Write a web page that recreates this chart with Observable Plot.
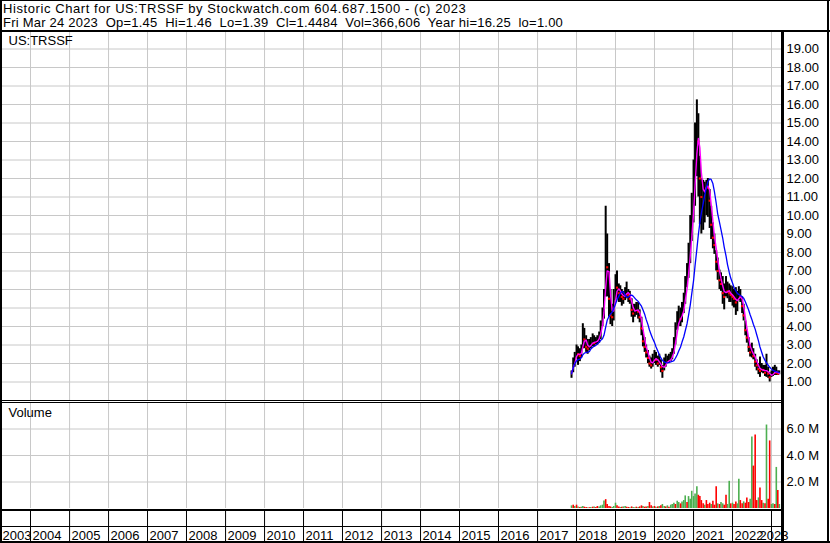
<!DOCTYPE html>
<html><head><meta charset="utf-8">
<script src="https://cdn.jsdelivr.net/npm/d3@7"></script>
<script src="https://cdn.jsdelivr.net/npm/@observablehq/plot@0.6"></script>
<style>
body{margin:0;background:#fff;}
#chart{position:relative;width:830px;height:543px;background:#fff;font-family:"Liberation Sans",Arial,sans-serif;overflow:hidden;color:#000;}
.txt{position:absolute;font-size:13px;line-height:14px;white-space:pre;color:#000;}
.bk{position:absolute;background:#000;}
.pl{position:absolute;left:0;}
svg{display:block;}
</style></head><body><div id="chart"></div>
<script>
// ---- data (semi-monthly readings) ----
const dates = ["2017-11-15","2017-12-01","2017-12-15",
"2018-01-01","2018-01-15","2018-02-01","2018-02-15","2018-03-01","2018-03-15","2018-04-01","2018-04-15","2018-05-01","2018-05-15","2018-06-01","2018-06-15","2018-07-01","2018-07-15","2018-08-01","2018-08-15","2018-09-01","2018-09-15","2018-10-01","2018-10-15","2018-11-01","2018-11-15","2018-12-01","2018-12-15",
"2019-01-01","2019-01-15","2019-02-01","2019-02-15","2019-03-01","2019-03-15","2019-04-01","2019-04-15","2019-05-01","2019-05-15","2019-06-01","2019-06-15","2019-07-01","2019-07-15","2019-08-01","2019-08-15","2019-09-01","2019-09-15","2019-10-01","2019-10-15","2019-11-01","2019-11-15","2019-12-01","2019-12-15",
"2020-01-01","2020-01-15","2020-02-01","2020-02-15","2020-03-01","2020-03-15","2020-04-01","2020-04-15","2020-05-01","2020-05-15","2020-06-01","2020-06-15","2020-07-01","2020-07-15","2020-08-01","2020-08-15","2020-09-01","2020-09-15","2020-10-01","2020-10-15","2020-11-01","2020-11-15","2020-12-01","2020-12-15",
"2021-01-01","2021-01-15","2021-02-01","2021-02-15","2021-03-01","2021-03-15","2021-04-01","2021-04-15","2021-05-01","2021-05-15","2021-06-01","2021-06-15","2021-07-01","2021-07-15","2021-08-01","2021-08-15","2021-09-01","2021-09-15","2021-10-01","2021-10-15","2021-11-01","2021-11-15","2021-12-01","2021-12-15",
"2022-01-01","2022-01-15","2022-02-01","2022-02-15","2022-03-01","2022-03-15","2022-04-01","2022-04-15","2022-05-01","2022-05-15","2022-06-01","2022-06-15","2022-07-01","2022-07-15","2022-08-01","2022-08-15","2022-09-01","2022-09-15","2022-10-01","2022-10-15","2022-11-01","2022-11-15","2022-12-01","2022-12-15",
"2023-01-01","2023-01-15","2023-02-01","2023-02-15","2023-03-01","2023-03-15"];

const highs = [1.6,2.3,2.6,
3.0,2.9,2.8,3.0,4.15,3.9,3.5,3.3,3.3,3.4,3.6,3.5,3.4,3.5,3.7,4.3,5.0,6.0,10.5,9.0,7.4,6.0,5.2,6.0,
6.8,7.0,6.3,6.2,6.0,5.9,6.1,6.4,6.0,5.9,5.5,5.2,5.2,5.3,5.3,4.9,4.5,3.8,3.4,3.0,2.7,2.4,2.3,2.5,
2.7,2.6,2.4,2.5,2.2,1.9,2.3,2.5,2.4,2.5,2.6,2.8,3.4,4.2,4.8,5.1,5.0,5.3,5.8,6.7,7.4,8.5,10.0,11.2,
13.0,15.0,16.25,15.5,13.2,12.0,11.9,11.8,11.9,12.0,11.4,10.5,9.6,9.0,8.1,7.7,7.05,6.9,6.7,6.3,6.7,6.4,6.3,6.2,
6.15,6.0,6.1,5.9,6.15,6.0,5.6,5.2,4.3,3.8,3.4,3.0,3.1,2.8,2.5,2.2,2.0,2.35,2.0,1.9,1.9,2.5,1.8,1.5,
1.6,1.8,1.9,1.8,1.6,1.6];

const lows = [1.2,1.5,1.8,
2.3,1.9,2.1,2.3,2.8,2.8,2.6,2.5,2.7,2.8,2.9,2.9,3.0,3.0,3.1,3.3,4.0,4.4,5.6,5.6,4.5,4.1,4.0,4.3,
5.4,5.5,5.3,5.3,5.1,5.2,5.4,5.5,5.3,5.2,4.5,4.2,4.5,4.6,4.4,4.2,3.5,2.9,2.6,2.3,2.0,1.8,1.7,1.8,
2.0,1.9,1.8,1.9,1.5,1.2,1.6,1.8,2.0,2.0,2.1,2.2,2.5,3.0,3.8,4.0,4.0,4.2,4.7,5.2,6.1,6.6,7.4,8.6,
9.6,10.5,12.1,11.0,9.5,9.0,9.2,9.6,10.0,9.9,9.3,8.7,8.2,7.9,7.0,6.5,6.0,5.9,5.2,4.9,5.6,5.5,5.3,5.3,
5.1,5.0,4.6,4.8,5.4,5.3,4.7,4.3,3.5,3.1,2.6,2.35,2.3,2.2,1.8,1.6,1.4,1.25,1.5,1.45,1.3,1.25,1.2,1.0,
1.25,1.3,1.35,1.35,1.35,1.39];

const closes = [1.45,2.1,2.4,
2.6,2.5,2.4,2.7,3.6,3.3,2.9,2.8,3.0,3.1,3.2,3.1,3.2,3.3,3.5,4.0,4.6,5.6,8.2,7.2,5.5,4.6,4.5,5.4,
6.2,6.1,5.8,5.9,5.6,5.5,5.8,6.0,5.7,5.5,4.9,4.7,4.9,5.0,4.8,4.5,3.9,3.2,2.9,2.6,2.3,2.0,1.9,2.2,
2.4,2.2,2.0,2.1,1.8,1.6,2.0,2.1,2.1,2.2,2.3,2.5,3.0,3.7,4.3,4.5,4.4,4.8,5.3,6.0,6.8,7.6,9.0,9.8,
11.5,13.5,15.0,14.0,12.0,11.0,11.3,11.5,11.8,11.5,10.8,9.5,8.8,8.4,7.5,7.0,6.5,6.3,5.8,5.6,6.1,5.9,5.8,5.7,
5.6,5.5,5.3,5.4,5.8,5.6,5.1,4.6,3.8,3.4,2.9,2.6,2.6,2.4,2.1,1.9,1.7,1.6,1.7,1.65,1.5,1.7,1.45,1.25,
1.4,1.55,1.6,1.5,1.45,1.45];

// volume in millions of shares, and whether the period closed up or down
const volumes = [0.20,0.25,0.15,
0.25,0.12,0.08,0.10,0.15,0.10,0.08,0.05,0.06,0.08,0.10,0.12,0.08,0.15,0.12,0.20,0.25,0.57,0.67,0.30,0.15,0.12,0.08,0.15,
0.40,0.20,0.12,0.08,0.10,0.12,0.15,0.10,0.08,0.06,0.12,0.08,0.06,0.10,0.08,0.12,0.20,0.15,0.10,0.12,0.15,0.45,0.20,0.12,
0.15,0.10,0.12,0.15,0.20,0.30,0.15,0.12,0.20,0.10,0.25,0.30,0.40,0.30,0.55,0.45,0.35,0.50,0.60,0.95,0.45,0.90,0.70,1.30,
0.90,1.10,1.65,1.00,0.90,0.60,0.35,0.25,0.60,0.30,0.40,0.30,0.55,0.25,1.65,0.35,0.30,0.45,0.35,0.25,1.00,0.30,2.05,0.35,
0.40,0.30,0.50,0.35,2.20,0.60,0.35,0.50,0.40,0.80,0.45,0.70,5.40,3.20,5.55,0.60,0.80,1.55,0.60,0.40,0.35,6.30,0.70,5.10,
0.30,0.35,0.30,3.10,1.35,0.30];

const volDir = ["up","down","up",
"down","up","down","up","up","down","down","up","down","up","down","up","down","down","up","up","up","up","down","down","down","down","up","up",
"up","down","down","up","down","up","up","down","down","up","down","up","up","down","up","down","down","up","down","down","up","down","down","up",
"down","up","down","up","down","up","up","down","up","down","up","up","up","down","up","up","down","up","up","up","down","up","up","up",
"up","up","up","down","down","down","down","up","down","down","down","up","down","down","down","up","down","up","up","down","down","up","up","down",
"up","down","down","up","up","down","down","up","down","down","down","up","up","down","down","down","up","down","down","up","down","up","down","down",
"up","up","down","up","down","up"];

const yearLabels = ["2003","2004","2005","2006","2007","2008","2009","2010","2011","2012","2013","2014","2015","2016","2017","2018","2019","2020","2021","2022","2023"];
const priceTicks = [1,2,3,4,5,6,7,8,9,10,11,12,13,14,15,16,17,18,19];
const volTicks = [2,4,6];

const headerLine1 = "Historic Chart for US:TRSSF by Stockwatch.com 604.687.1500 - (c) 2023";
const headerLine2 = "Fri Mar 24 2023  Op=1.45  Hi=1.46  Lo=1.39  Cl=1.4484  Vol=366,606  Year hi=16.25  lo=1.00";
const symbolLabel = "US:TRSSF";
const volumeLabel = "Volume";

// ---- build ----
const parse = d3.utcParse("%Y-%m-%d");
const priceData = dates.map((d, i) => ({date: parse(d), high: highs[i], low: lows[i], close: closes[i]}));
const volData = dates.map((d, i) => ({date: parse(d), vol: volumes[i], dir: volDir[i]}));
const xDomain = [new Date(Date.UTC(2003, 2, 26)), new Date(Date.UTC(2023, 3, 14))];
const yearStarts = yearLabels.slice(1).map(y => new Date(Date.UTC(+y, 0, 1)));
const GRID = "#c8c8c8";
const FONT = "'Liberation Sans', Arial, sans-serif";
const baseStyle = {fontFamily: FONT, fontSize: "13px", color: "#000", background: "transparent", overflow: "visible"};

const price = Plot.plot({
  width: 830, height: 370, marginTop: 0, marginBottom: 0, marginLeft: 0, marginRight: 48,
  style: baseStyle,
  x: {type: "utc", domain: xDomain, axis: null},
  y: {domain: [0, 20], axis: "right", ticks: priceTicks, tickSize: 0, tickPadding: 4, tickFormat: d => d.toFixed(2), label: null},
  marks: [
    Plot.ruleX(yearStarts, {stroke: GRID}),
    Plot.ruleY(priceTicks, {stroke: GRID}),
    Plot.ruleX(priceData, {x: "date", y1: "low", y2: "high", stroke: "#000", strokeWidth: 2}),
    Plot.dot(priceData, {filter: (d, i) => i > 0 && closes[i] < closes[i - 1], x: "date", y: "close", symbol: "square", r: 1.2, fill: "#ff0000", stroke: null}),
    Plot.lineY(priceData, Plot.windowY({k: 3, anchor: "end"}, {x: "date", y: "close", stroke: "#ff00ff", strokeWidth: 1.4})),
    Plot.lineY(priceData, Plot.windowY({k: 12, anchor: "end"}, {x: "date", y: "close", stroke: "#0000ff", strokeWidth: 1.3}))
  ]
});

const volume = Plot.plot({
  width: 830, height: 106, marginTop: 0, marginBottom: 0, marginLeft: 0, marginRight: 48,
  style: baseStyle,
  x: {type: "utc", domain: xDomain, axis: null},
  y: {domain: [0, 8], axis: "right", ticks: volTicks, tickSize: 0, tickPadding: 4, tickFormat: d => d.toFixed(1) + " M", label: null},
  marks: [
    Plot.ruleX(yearStarts, {stroke: GRID}),
    Plot.ruleY(volTicks, {stroke: GRID}),
    Plot.ruleX(volData, {filter: d => d.dir === "up", x: "date", y1: 0, y2: "vol", stroke: "#4caf50", strokeWidth: 1.6}),
    Plot.ruleX(volData, {filter: d => d.dir === "down", x: "date", y1: 0, y2: "vol", stroke: "#ff0000", strokeWidth: 1.6})
  ]
});

const axisLabels = yearLabels.slice(0, -1).map(y => ({label: y, date: d3.max([new Date(Date.UTC(+y, 0, 1)), xDomain[0]])}));
const lastLabel = [{label: yearLabels[yearLabels.length - 1], date: xDomain[1]}];
const axis = Plot.plot({
  width: 830, height: 30, marginTop: 0, marginBottom: 0, marginLeft: 0, marginRight: 48,
  style: baseStyle,
  x: {type: "utc", domain: xDomain, axis: null},
  marks: [
    Plot.ruleX(yearStarts, {stroke: "#000"}),
    Plot.text(axisLabels, {x: "date", text: "label", frameAnchor: "bottom", lineAnchor: "bottom", textAnchor: "start", dx: 2, dy: -1.5, fill: "#000"}),
    Plot.text(lastLabel, {x: "date", text: "label", frameAnchor: "bottom", lineAnchor: "bottom", textAnchor: "end", dx: 6, dy: -1.5, fill: "#000"})
  ]
});

const chart = document.getElementById("chart");
function place(el, top) { const w = document.createElement("div"); w.className = "pl"; w.style.top = top + "px"; w.appendChild(el); chart.appendChild(w); }
place(price, 30);
place(volume, 402);
place(axis, 511);

function txt(s, left, top, ls) { const d = document.createElement("div"); d.className = "txt"; d.textContent = s; d.style.left = left + "px"; d.style.top = top + "px"; if (ls) d.style.letterSpacing = ls + "px"; chart.appendChild(d); }
txt(headerLine1, 3, 2, 0.58);
txt(headerLine2, 3, 16, 0.22);
txt(symbolLabel, 8.5, 34);
txt(volumeLabel, 8.5, 406);

function line(l, t, w, h) { const d = document.createElement("div"); d.className = "bk"; Object.assign(d.style, {left: l + "px", top: t + "px", width: w + "px", height: h + "px"}); chart.appendChild(d); }
line(0, 0, 830, 1);      // top border
line(0, 30, 830, 2);     // header bottom
line(0, 0, 2, 543);      // left border
line(827, 0, 2, 543);    // right border
line(0, 400, 782, 1);    // panel separator
line(0, 402, 782, 1);
line(0, 509, 782, 2);    // volume baseline
line(0, 526, 782, 1);    // axis row separator
line(0, 541, 830, 2);    // bottom border
line(781, 30, 3, 513);   // price axis line
</script>
</body></html>
